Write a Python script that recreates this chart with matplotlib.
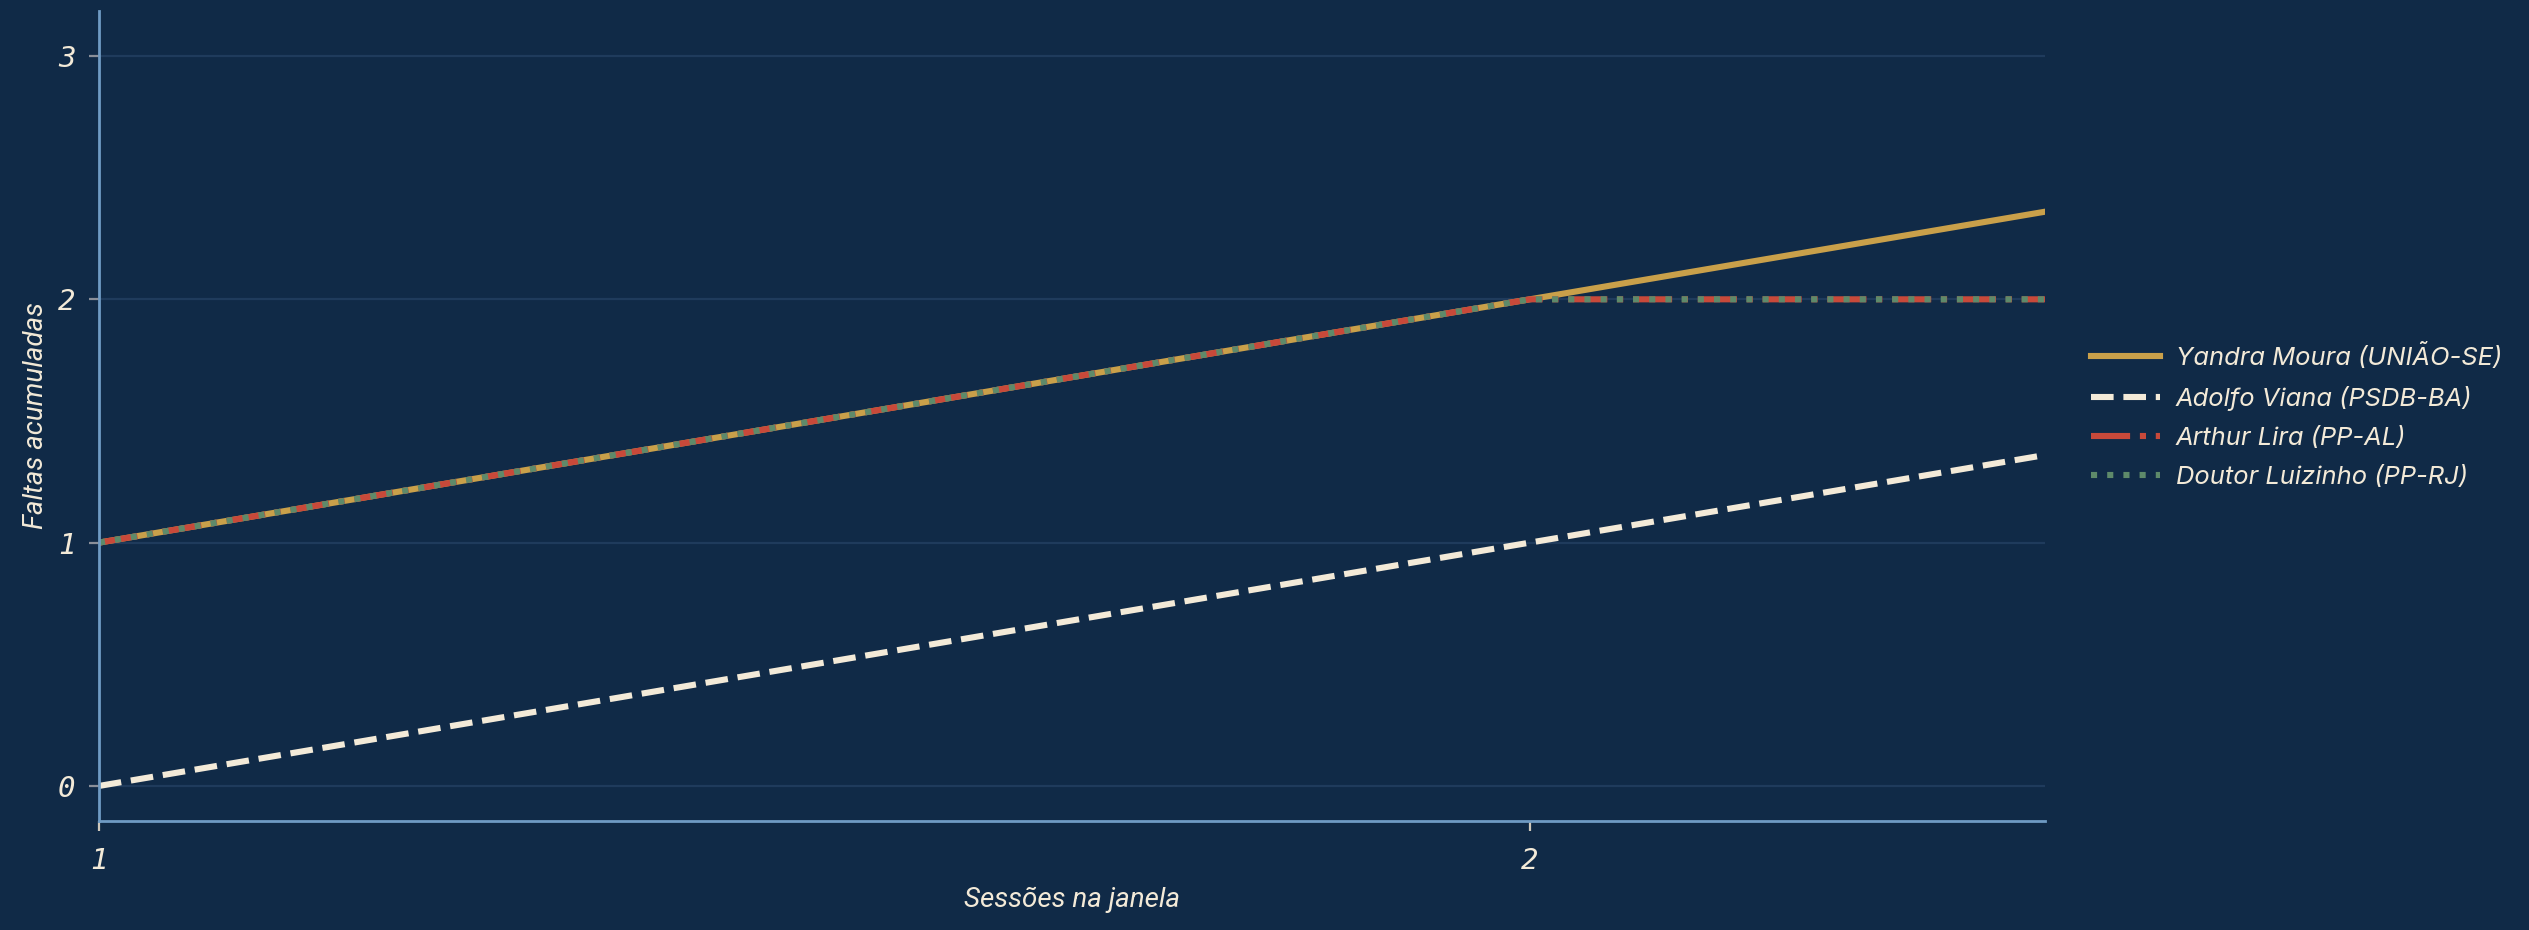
import matplotlib
matplotlib.use('Agg')
from matplotlib import pyplot
from matplotlib import font_manager

sessions = [1, 2, 3]
yandra = [1, 2, 3]
adolfo = [0, 1, 2]
arthur = [1, 2, 2]
luizinho = [1, 2, 2]

names = ['Yandra Moura (UNIÃO-SE)', 'Adolfo Viana (PSDB-BA)',
         'Arthur Lira (PP-AL)', 'Doutor Luizinho (PP-RJ)']
colors = ['#c9a04a', '#f3ead8', '#c8493a', '#5e8a6a']
styles = ['-', '--', '-.', ':']

bg = '#102a47'
text_color = '#f3ead8'
spine_color = '#6f9bc4'

installed = {f.name for f in font_manager.fontManager.ttflist}
label_font = 'Liberation Sans Narrow' if 'Liberation Sans Narrow' in installed else 'Roboto'

fig = pyplot.figure(figsize=(12.645, 4.65), dpi=200, facecolor=bg)
ax = fig.add_axes([0.0391, 0.1172, 0.7695, 0.8710])
ax.set_facecolor(bg)

series = [yandra, adolfo, arthur, luizinho]
for values, name, color, style in zip(series, names, colors, styles):
    ax.plot(sessions, values, linestyle=style, color=color, linewidth=2.2, label=name)

ax.set_xlim(1, 2.36)
ax.set_ylim(-0.144, 3.185)
ax.set_xticks([1, 2])
ax.set_yticks([0, 1, 2, 3])
ax.grid(axis='y', color='#1f3b5c', linewidth=0.8)
ax.grid(axis='x', visible=False)
ax.set_axisbelow(True)

for side in ['top', 'right']:
    ax.spines[side].set_visible(False)
for side in ['left', 'bottom']:
    ax.spines[side].set_color(spine_color)
    ax.spines[side].set_linewidth(1.0)

ax.tick_params(axis='x', colors='#cfc8bb', length=3.5, width=0.8, labelcolor=text_color, pad=6)
ax.tick_params(axis='y', colors='#8a8f99', length=3.5, width=0.8, labelcolor=text_color, pad=5)
for lab in ax.get_xticklabels() + ax.get_yticklabels():
    lab.set_fontfamily('DejaVu Sans Mono')
    lab.set_fontstyle('italic')
    lab.set_fontsize(10.5)

ax.set_xlabel('Sessões na janela', fontsize=10, style='italic', family=label_font,
              color=text_color, labelpad=4)
ax.set_ylabel('Faltas acumuladas', fontsize=10, style='italic', family=label_font,
              color=text_color, labelpad=3)

leg = ax.legend(loc='center left', bbox_to_anchor=(1.012, 0.5), frameon=False,
                prop={'family': 'Inter', 'style': 'italic', 'size': 9.2},
                handlelength=2.7, handletextpad=0.6, labelspacing=0.62)
for t in leg.get_texts():
    t.set_color(text_color)

fig.savefig('out.png', facecolor=bg)
